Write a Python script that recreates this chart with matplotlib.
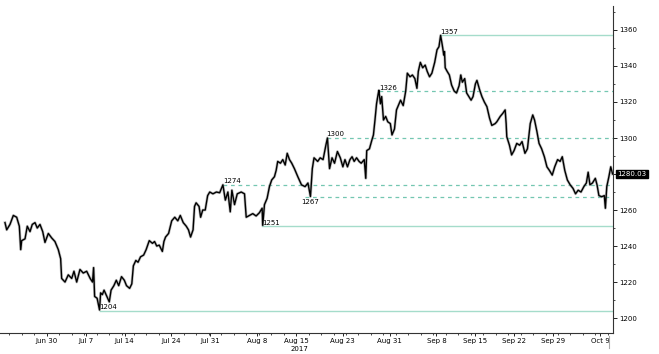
import numpy as np
import matplotlib
matplotlib.use("Agg")
import matplotlib.pyplot as plt
from matplotlib.ticker import MultipleLocator, FixedLocator, FuncFormatter
import matplotlib.transforms as mtransforms

# time in trading days since Jun 30 2017, gold spot price
t = [-5.35, -5.13, -4.71, -4.28, -3.85, -3.51, -3.33, -3.21, -2.78, -2.49,
     -2.14, -1.85, -1.50, -1.21, -0.86, -0.51, -0.22, 0.21, 0.64, 1.06,
     1.49, 1.79, 1.92, 2.35, 2.77, 3.21, 3.50, 3.85, 4.27, 4.69,
     5.13, 5.58, 5.88, 6.02, 6.15, 6.47, 6.78, 6.92, 7.14, 7.36,
     7.82, 8.03, 8.26, 8.62, 8.93, 9.24, 9.60, 9.96, 10.24, 10.64,
     10.92, 11.12, 11.44, 11.72, 12.04, 12.44, 12.76, 13.16, 13.57, 13.84,
     14.12, 14.44, 14.84, 15.04, 15.25, 15.64, 16.04, 16.43, 16.82, 17.14,
     17.52, 17.91, 18.19, 18.46, 18.78, 18.97, 19.17, 19.55, 19.75, 20.02,
     20.34, 20.65, 20.92, 21.33, 21.77, 22.19, 22.61, 22.92, 23.25, 23.55,
     23.76, 24.10, 24.45, 24.96, 25.38, 25.60, 26.02, 26.44, 26.87, 27.29,
     27.64, 27.72, 27.94, 28.28, 28.58, 28.87, 29.22, 29.44, 29.64, 29.99,
     30.29, 30.60, 30.86, 31.15, 31.44, 31.78, 32.22, 32.69, 33.15, 33.52,
     33.84, 34.08, 34.30, 34.77, 35.09, 35.46, 35.82, 36.02, 36.29, 36.61,
     36.93, 37.30, 37.67, 38.00, 38.27, 38.59, 38.91, 39.18, 39.45, 39.76,
     40.08, 40.35, 40.74, 40.94, 41.06, 41.41, 41.73, 41.92, 42.12, 42.32,
     42.51, 42.62, 42.82, 42.98, 43.21, 43.49, 43.76, 44.09, 44.30, 44.62,
     44.88, 45.40, 45.74, 46.06, 46.27, 46.62, 46.92, 47.24, 47.50, 47.68,
     47.94, 48.24, 48.56, 48.82, 49.12, 49.42, 49.78, 50.08, 50.33, 50.54,
     50.75, 50.95, 51.04, 51.13, 51.38, 51.66, 51.95, 52.29, 52.58, 52.91,
     53.13, 53.33, 53.63, 53.88, 54.16, 54.45, 54.70, 55.00, 55.20, 55.55,
     55.84, 56.15, 56.48, 56.82, 57.11, 57.54, 57.75, 58.19, 58.52, 58.82,
     58.95, 59.03, 59.37, 59.65, 59.96, 60.31, 60.68, 60.99, 61.36, 61.68,
     62.04, 62.36, 62.59, 62.90, 63.17, 63.50, 63.85, 64.18, 64.50, 64.86,
     65.18, 65.55, 65.87, 66.15, 66.47, 66.80, 67.16, 67.53, 67.85, 68.19,
     68.55, 68.92, 69.24, 69.47, 69.70, 70.02, 70.39, 70.61, 70.85, 71.22,
     71.54, 71.68, 71.86, 72.13, 72.37, 72.60]
price = [1253, 1249, 1252, 1257, 1256, 1251, 1238, 1243, 1244, 1251,
         1248, 1252, 1253, 1250, 1252, 1248, 1242, 1247, 1244.5, 1242.5,
         1238, 1233, 1222, 1220, 1224, 1222, 1226, 1220, 1227, 1225,
         1226, 1222, 1220, 1228, 1212, 1211, 1204.5, 1214, 1213, 1215.5,
         1211, 1209, 1215.5, 1218, 1221, 1218, 1223, 1221, 1218, 1216.5,
         1219, 1229, 1232, 1231, 1234, 1235, 1238, 1243, 1241.5, 1242.5,
         1240, 1240.5, 1237, 1242.5, 1245, 1247, 1254, 1256, 1254, 1257,
         1253, 1251, 1249, 1245, 1249, 1262, 1264, 1262, 1256, 1260,
         1260, 1268, 1270, 1269, 1270, 1269.6, 1274, 1265.5, 1270, 1259,
         1271, 1263, 1269, 1270, 1269, 1256, 1257, 1258, 1256.7, 1258.5,
         1261, 1251.5, 1263, 1266.5, 1273, 1276.7, 1278.5, 1282, 1287, 1286,
         1288, 1285, 1291.5, 1288, 1286, 1283, 1278.5, 1274, 1273, 1275,
         1267.5, 1283, 1289, 1287, 1289, 1288, 1296, 1300, 1283, 1289,
         1286, 1292.5, 1289, 1284, 1288, 1284, 1288, 1289.6, 1287, 1289,
         1287, 1286, 1288, 1277.6, 1293, 1294, 1299, 1301.7, 1310, 1319,
         1324, 1326.5, 1319, 1323, 1310, 1312, 1309, 1308, 1301.7, 1305,
         1315.6, 1321, 1318, 1326, 1336, 1334, 1335, 1333, 1327.6, 1337,
         1342, 1339, 1340.5, 1337, 1334, 1336, 1342, 1349, 1350.7, 1357,
         1351.7, 1346, 1348, 1339, 1337, 1335, 1329.4, 1326, 1325, 1329,
         1335, 1331, 1333, 1325, 1323, 1321, 1323, 1330, 1332, 1326.7,
         1323, 1320, 1317.4, 1311, 1307, 1308, 1309, 1312, 1313.7, 1315.6,
         1308, 1300.7, 1296, 1290.6, 1293, 1297, 1296, 1298, 1291.5, 1294,
         1308, 1312.8, 1310, 1303.5, 1297, 1294, 1289.6, 1284, 1282, 1279.4,
         1284, 1288, 1287, 1289.6, 1282, 1276.7, 1274, 1272, 1269, 1271,
         1270, 1273, 1275, 1281, 1274, 1275, 1277.6, 1274, 1268, 1267.4,
         1268, 1261, 1273, 1278.5, 1284, 1280]

last_price = 1280.03

# support / resistance levels: value, start (trading day), solid?
level_vals = [1357, 1326, 1300, 1274, 1267, 1251, 1204]
level_start = [50.54, 42.62, 35.92, 22.61, 33.2, 27.68, 6.78]
level_solid = [True, False, False, False, False, True, True]
level_label_below = [False, False, False, False, True, False, False]

tick_days = [0, 5, 10, 16, 21, 27, 32, 38, 44, 50, 55, 60, 65, 71]
tick_labels = ["Jun 30", "Jul 7", "Jul 14", "Jul 24", "Jul 31", "Aug 8",
               "Aug 15", "Aug 23", "Aug 31", "Sep 8", "Sep 15", "Sep 22",
               "Sep 29", "Oct 9"]

fig = plt.figure(figsize=(6.59, 3.54), dpi=100)
ax = fig.add_axes([0.0, 0.0593, 0.9307, 0.9237])

xmax = 72.7
for v, s, solid, below in zip(level_vals, level_start, level_solid, level_label_below):
    if solid:
        ax.plot([s, xmax], [v, v], color="#a5dccb", lw=1.0, zorder=1)
    else:
        ax.plot([s, xmax], [v, v], color="#74c7b1", lw=0.9,
                dashes=(3, 3), zorder=1)
    if below:
        ax.text(s - 0.5, v - 0.8, str(v), fontsize=5, va="top", ha="left")
    else:
        ax.text(s, v + 0.3, str(v), fontsize=5, va="bottom", ha="left")

ax.plot(t, price, color="#8a8a8a", lw=2.0, alpha=0.55, zorder=2)
ax.plot(t, price, color="black", lw=1.0, zorder=3)

ax.set_xlim(-5.99, xmax)
ax.set_ylim(1191.7, 1373.3)

ax.spines["left"].set_visible(False)
ax.spines["top"].set_visible(False)
ax.spines["right"].set_color("#333333")
ax.spines["bottom"].set_color("#333333")
ax.spines["right"].set_linewidth(0.8)
ax.spines["bottom"].set_linewidth(0.8)

ax.yaxis.tick_right()
ax.yaxis.set_major_locator(MultipleLocator(20))
ax.yaxis.set_minor_locator(MultipleLocator(10))
# the last-price box takes the place of the 1280 label
ax.yaxis.set_major_formatter(FuncFormatter(
    lambda v, pos: "" if abs(v - 1280) < 1e-6 else f"{v:.0f}"))
ax.tick_params(axis="y", which="major", labelsize=5, length=3, width=0.6, pad=1.5)
ax.tick_params(axis="y", which="minor", length=1.5, width=0.5)

ax.xaxis.set_major_locator(FixedLocator(tick_days))
ax.set_xticklabels(tick_labels)
ax.xaxis.set_minor_locator(MultipleLocator(1.6))
ax.tick_params(axis="x", which="major", labelsize=5, length=2, width=0.6, pad=1.5)
ax.tick_params(axis="x", which="minor", length=1.5, width=0.5)

trans = mtransforms.blended_transform_factory(ax.transData, ax.transAxes)
ax.text(32.4, -0.04, "2017", transform=trans, fontsize=5, ha="center", va="top")

ax.annotate(f"{last_price:.2f}", xy=(1.0, last_price),
            xycoords=("axes fraction", "data"),
            xytext=(3, 0), textcoords="offset points",
            fontsize=5, color="white", va="center", ha="left",
            bbox=dict(boxstyle="square,pad=0.2", fc="black", ec="black"))

ax.plot([72.13, 72.13], [-0.01, -0.045], transform=trans, color="#aaaaaa",
        lw=0.8, clip_on=False)

fig.savefig("out.png", dpi=100)
